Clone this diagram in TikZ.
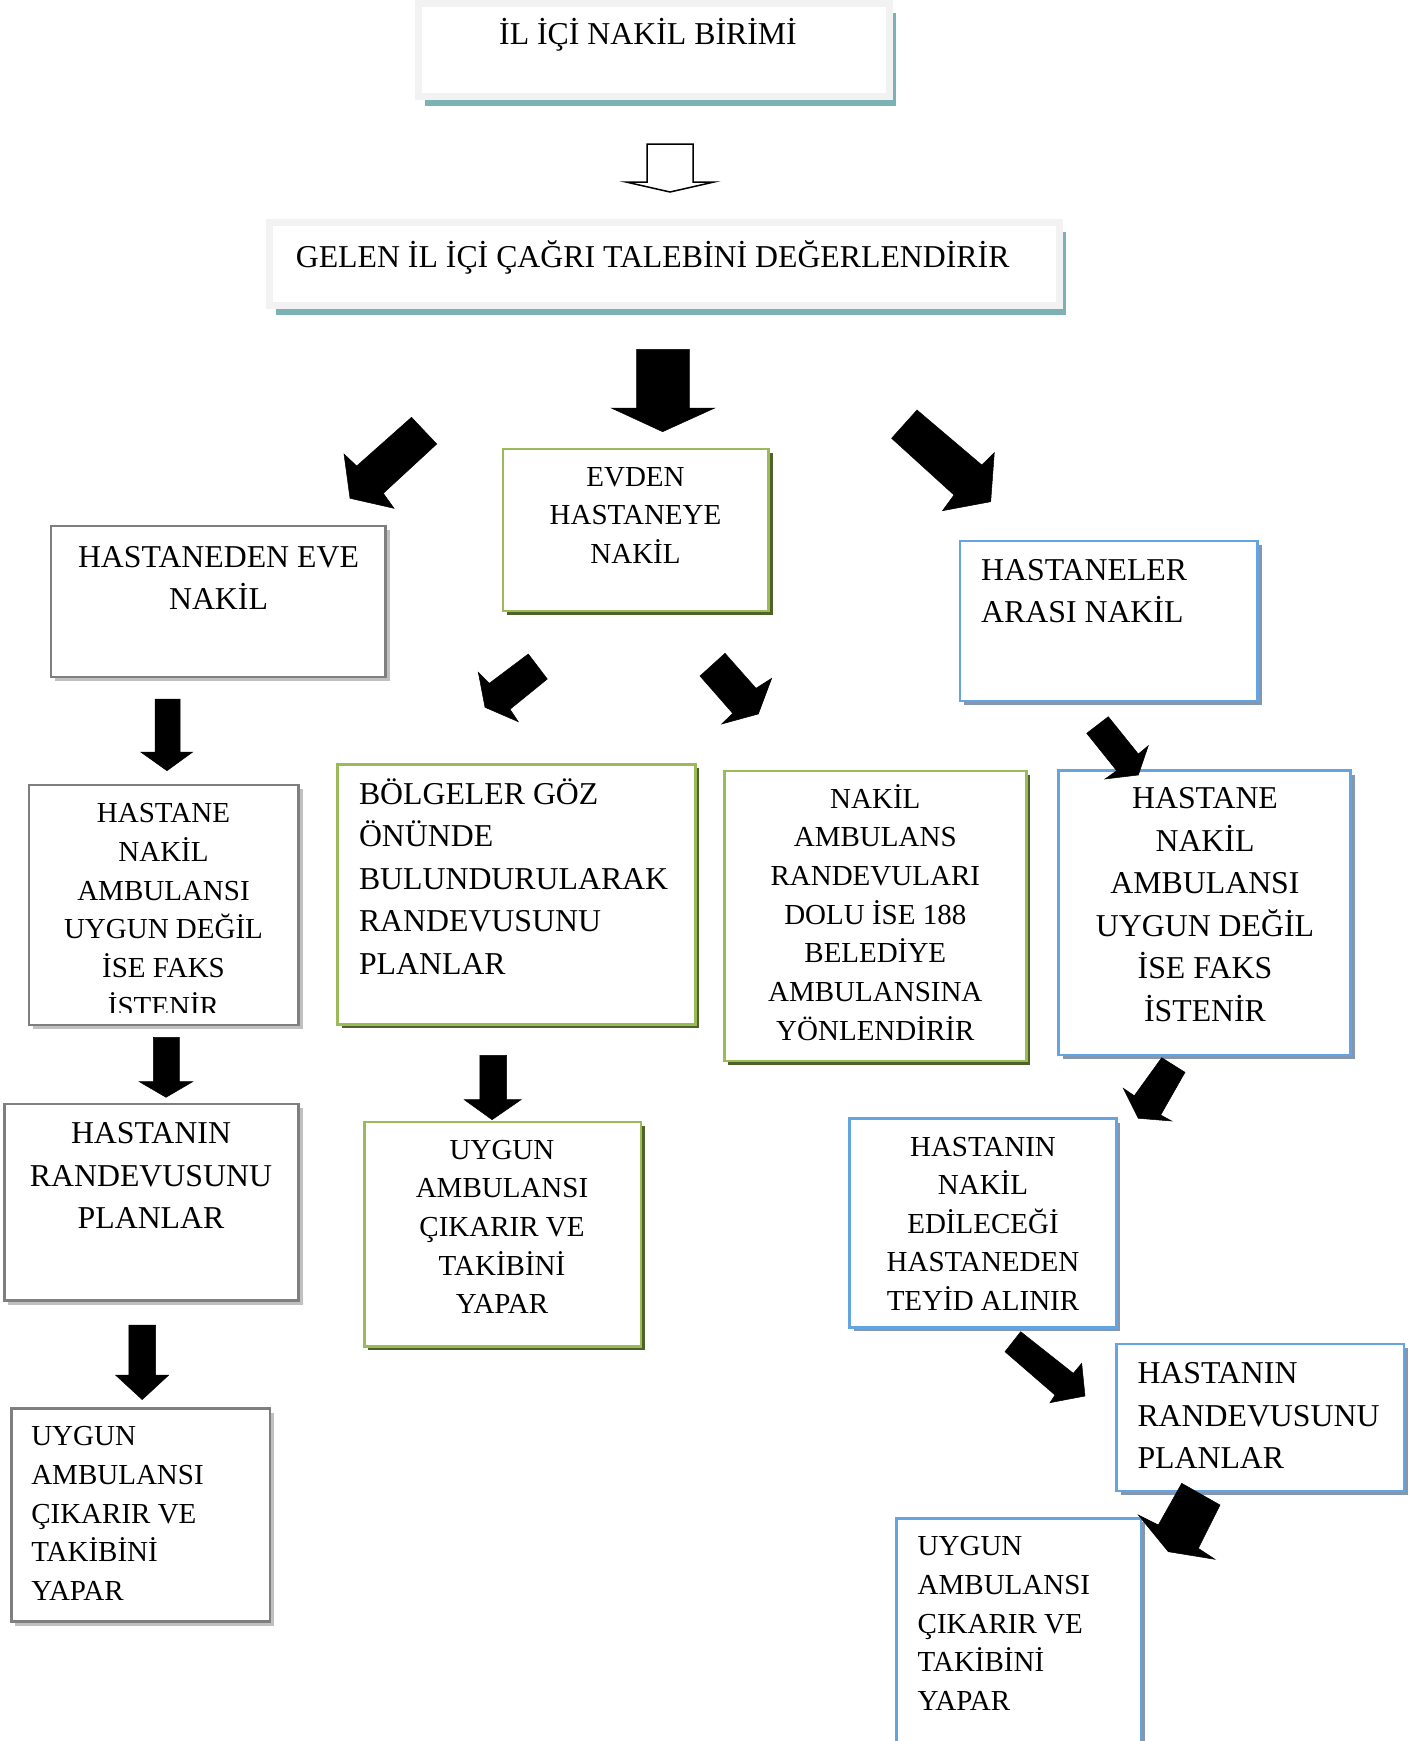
\documentclass[tikz,border=0pt]{standalone}
\usepackage{fontspec}
\setmainfont{Liberation Serif}
\usetikzlibrary{shadows,fit}
\definecolor{gline}{RGB}{127,127,127}
\definecolor{gshad}{RGB}{192,192,192}
\definecolor{grline}{RGB}{155,187,89}
\definecolor{grshad}{RGB}{79,98,40}
\definecolor{bline}{RGB}{100,165,225}
\definecolor{bshad}{RGB}{132,151,176}
\definecolor{tframe}{RGB}{242,242,242}
\definecolor{tshad}{RGB}{125,178,181}
\newcommand\mybox[6]{%
  \coordinate (#1-a) at (#3,#4);
  \coordinate (#1-b) at (#5,#6);
  \node[inner sep=0pt, #2, fit=(#1-a)(#1-b)] (#1) {};}
\begin{document}
\begin{tikzpicture}[x=1pt,y=-1pt,
  big/.style={font=\fontsize{31.8}{42.5}\selectfont, inner sep=0pt},
  small/.style={font=\fontsize{29}{38.66}\selectfont, inner sep=0pt},
  graybox/.style={draw=gline, line width=2.8pt, fill=white,
    drop shadow={shadow xshift=4pt, shadow yshift=-4pt, fill=gshad, opacity=1}},
  greenbox/.style={draw=grline, line width=2.8pt, fill=white,
    drop shadow={shadow xshift=4pt, shadow yshift=-4pt, fill=grshad, opacity=1}},
  bluebox/.style={draw=bline, line width=2.8pt, fill=white,
    drop shadow={shadow xshift=4pt, shadow yshift=-4pt, fill=bshad, opacity=1}},
  tealbox/.style={draw=tframe, line width=7pt, fill=white,
    drop shadow={shadow xshift=6pt, shadow yshift=-9pt, fill=tshad, opacity=1}},
  blockarrow/.style={fill=black, draw=black, line width=0.5pt, line join=miter},
]
\clip (0,0) rectangle (1424,1741);
\fill[white] (0,0) rectangle (1424,1741);

% ---------- boxes ----------
\mybox{top}{tealbox}{418.5}{3.5}{889.5}{96.5}
\mybox{gelen}{tealbox}{269.5}{222.8}{1059.5}{305.8}
\mybox{eve}{graybox}{51}{526}{385.5}{677}
\mybox{evden}{greenbox}{503}{449}{768.5}{611}
\mybox{arasi}{bluebox}{960}{541}{1257.5}{701}
\mybox{lhast}{graybox}{29}{785}{298.5}{1025}
\mybox{bolge}{greenbox}{337.7}{764.2}{695.4}{1024.2}
\mybox{nakamb}{greenbox}{724.2}{770.9}{1026.4}{1061}
\mybox{rhast}{bluebox}{1058.5}{770.7}{1350.5}{1055}
\mybox{lrand}{graybox}{4.4}{1104}{298.8}{1300.7}
\mybox{luygun}{graybox}{11.1}{1408.5}{270}{1621.8}
\mybox{muygun}{greenbox}{364.3}{1121.9}{641}{1346.3}
\mybox{teyid}{bluebox}{849.8}{1118.6}{1116.4}{1327.4}
\mybox{rrand}{bluebox}{1116.5}{1344}{1404}{1491}
\mybox{ruygun}{bluebox}{896.4}{1518.4}{1141}{1770}

% ---------- texts (anchor at top of first-line strut) ----------
\node[big, anchor=north] (t-top) at (648,14.25) {\strut İL İÇİ NAKİL BİRİMİ};
\node[big, anchor=north west] (t-gelen) at (295.6,237.25) {\strut GELEN İL İÇİ ÇAĞRI TALEBİNİ DEĞERLENDİRİR};
\node[big, anchor=north, align=center] (t-eve) at (218.5,537.25) {\strut HASTANEDEN EVE\\NAKİL};
\node[small, anchor=north, align=center] (t-evden) at (635.5,458.94) {\strut EVDEN\\HASTANEYE\\NAKİL};
\node[big, anchor=north west, align=left] (t-arasi) at (981,550.25) {\strut HASTANELER\\ARASI NAKİL};
\begin{scope}
\clip (29,785) rectangle (298.5,1012);
\node[small, anchor=north, align=center] (t-lhast) at (163.5,795.44) {\strut HASTANE\\NAKİL\\AMBULANSI\\UYGUN DEĞİL\\İSE FAKS\\İSTENİR};
\end{scope}
\node[big, anchor=north west, align=left] (t-bolge) at (358.8,774.45) {\strut BÖLGELER GÖZ\\ÖNÜNDE\\BULUNDURULARAK\\RANDEVUSUNU\\PLANLAR};
\node[small, anchor=north, align=center] (t-nakamb) at (875.3,781.04) {\strut NAKİL\\AMBULANS\\RANDEVULARI\\DOLU İSE 188\\BELEDİYE\\AMBULANSINA\\YÖNLENDİRİR};
\node[big, anchor=north, align=center] (t-rhast) at (1205,778.85) {\strut HASTANE\\NAKİL\\AMBULANSI\\UYGUN DEĞİL\\İSE FAKS\\İSTENİR};
\node[big, anchor=north, align=center] (t-lrand) at (151,1113.85) {\strut HASTANIN\\RANDEVUSUNU\\PLANLAR};
\node[small, anchor=north west, align=left] (t-luygun) at (31.1,1418.64) {\strut UYGUN\\AMBULANSI\\ÇIKARIR VE\\TAKİBİNİ\\YAPAR};
\node[small, anchor=north, align=center] (t-muygun) at (502,1132.04) {\strut UYGUN\\AMBULANSI\\ÇIKARIR VE\\TAKİBİNİ\\YAPAR};
\node[small, anchor=north, align=center] (t-teyid) at (983,1128.74) {\strut HASTANIN\\NAKİL\\EDİLECEĞİ\\HASTANEDEN\\TEYİD ALINIR};
\node[big, anchor=north west, align=left] (t-rrand) at (1137.3,1353.55) {\strut HASTANIN\\RANDEVUSUNU\\PLANLAR};
\node[small, anchor=north west, align=left] (t-ruygun) at (917.5,1528.64) {\strut UYGUN\\AMBULANSI\\ÇIKARIR VE\\TAKİBİNİ\\YAPAR};

% ---------- block arrows ----------
\draw[fill=white, draw=black, line width=1.5pt, line join=miter]
  (647,144) -- (693,144) -- (693,182) -- (714,182) -- (670,192) -- (626,182) -- (647,182) -- cycle;
\draw[blockarrow] (636.7,349.3) -- (689.4,349.3) -- (689.4,408) -- (714.8,408) -- (662.6,431.7) -- (611.3,408) -- (636.7,408) -- cycle;
\draw[blockarrow] (411.5,417.3) -- (436.7,444) -- (383.3,493.3) -- (394,508.3) -- (350,498.3) -- (344,454) -- (356.7,466) -- cycle;
\draw[blockarrow] (917,410) -- (891.6,438.3) -- (954,495) -- (942.5,510.7) -- (990.7,501.7) -- (994.3,452.7) -- (981.8,465) -- cycle;
\draw[blockarrow] (528.3,654) -- (547.3,679) -- (510,709.3) -- (518.3,721.7) -- (485,707.3) -- (478.3,672.3) -- (489.3,683.3) -- cycle;
\draw[blockarrow] (725,653.3) -- (700,676) -- (732.7,713.3) -- (721.7,724) -- (758.3,714) -- (771.7,678.3) -- (756,688.3) -- cycle;
\draw[blockarrow] (155,699) -- (180,699) -- (180,752) -- (192.7,752) -- (167,770.7) -- (140.7,752) -- (155,752) -- cycle;
\draw[blockarrow] (153.3,1037.3) -- (179.3,1037.3) -- (179.3,1081.7) -- (192.7,1081.7) -- (166,1097.3) -- (139.3,1081.7) -- (153.3,1081.7) -- cycle;
\draw[blockarrow] (128.9,1325) -- (155.5,1325) -- (155.5,1375) -- (168.8,1375) -- (142.2,1399.6) -- (115.5,1375) -- (128.9,1375) -- cycle;
\draw[blockarrow] (479.9,1055.3) -- (506.5,1055.3) -- (506.5,1099.7) -- (521,1099.7) -- (492.1,1119.7) -- (464.3,1099.7) -- (479.9,1099.7) -- cycle;
\draw[blockarrow] (1108.3,716.7) -- (1086.7,733.3) -- (1116.7,770.7) -- (1105,779) -- (1138.3,775) -- (1148.3,745.7) -- (1138.3,754) -- cycle;
\draw[blockarrow] (1161.7,1057.7) -- (1185,1072.3) -- (1160.7,1115) -- (1171.7,1121) -- (1138.3,1118.3) -- (1123.3,1088.3) -- (1134.3,1095.7) -- cycle;
\draw[blockarrow] (1020.7,1331.7) -- (1005,1351.7) -- (1055,1395) -- (1050,1402.7) -- (1085,1396) -- (1081.7,1363.3) -- (1073.3,1373.3) -- cycle;
\draw[blockarrow] (1181.7,1483.3) -- (1220,1505) -- (1198.3,1548.3) -- (1215,1559.3) -- (1168.3,1551.7) -- (1138.3,1515) -- (1158.3,1525) -- cycle;
\end{tikzpicture}
\end{document}
